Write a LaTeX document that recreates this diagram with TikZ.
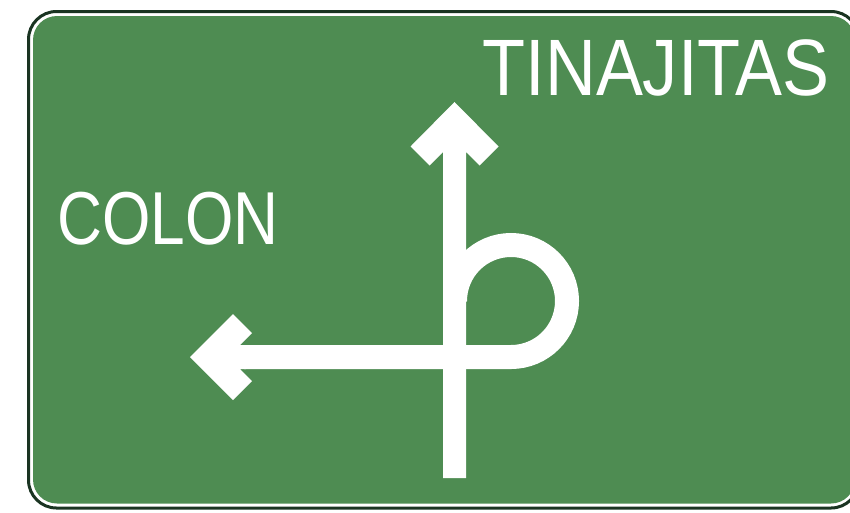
\documentclass[tikz,border=0pt]{standalone}
\usepackage{fontspec}
\setmainfont{Liberation Sans}
\definecolor{signgreen}{RGB}{78,140,82}
\definecolor{signdark}{RGB}{26,52,34}
\tikzset{
  signtext/.style={text=white, inner sep=0pt, anchor=base},
  whiteshape/.style={fill=white, draw=none},
  whiteroad/.style={draw=white, line width=24pt, line cap=butt},
}
\begin{document}
\begin{tikzpicture}[x=1pt,y=-1pt]
\useasboundingbox (0,0) rectangle (850,512);
\clip (0,0) rectangle (850,512);
\fill[white] (0,0) rectangle (850,512);
% sign plate
\draw[signdark, line width=3pt, fill=white, rounded corners=28pt] (28.5,11.5) rectangle (859,508);
\fill[signgreen, rounded corners=24pt] (33,16) rectangle (855,503.5);
% straight-ahead arrow
\fill[whiteshape] (454.5,102) -- (498.5,146.5) -- (479.5,165.5) -- (466,152)
  -- (466,478) -- (443,478) -- (443,152) -- (429.5,165.5) -- (410.5,146.5) -- cycle;
% left arrow head
\fill[whiteshape] (190,357) -- (233,314) -- (252,333) -- (240,345) -- (246,345)
  -- (246,369) -- (240,369) -- (252,381) -- (233,400) -- cycle;
% loop road
\coordinate (shaftstart) at (244,357);
\coordinate (loopstart) at (511,357);
\draw[whiteroad] (shaftstart) -- (loopstart) arc[start angle=90, end angle=-180, radius=56];
% destinations
\node[signtext] (tin) at (656,95) {\fontsize{80}{80}\selectfont\scalebox{0.88}[1]{TINAJITAS}};
\node[signtext] (col) at (168,244.5) {\fontsize{75}{75}\selectfont\scalebox{0.83}[1]{COLON}};
\end{tikzpicture}
\end{document}
